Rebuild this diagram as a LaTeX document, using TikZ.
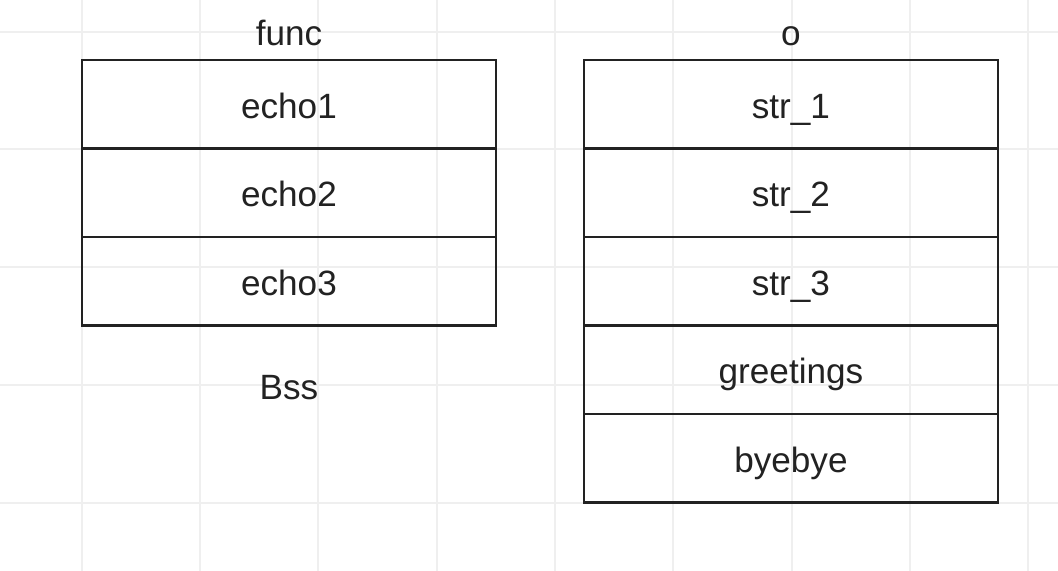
\documentclass[tikz,border=0pt]{standalone}
\usepackage{fontspec}
\setmainfont{Liberation Sans}
\usetikzlibrary{positioning}
\definecolor{gridgray}{HTML}{EFEFEF}
\definecolor{ink}{HTML}{222222}

\begin{document}
\begin{tikzpicture}[
  x=0.02cm,y=-0.02cm,
  node distance=0pt,
  font=\fontsize{20}{24}\selectfont,
  cell/.style={draw=ink,line width=1.3pt,outer sep=0pt,inner sep=0pt,minimum width=8.28cm,minimum height=1.77cm,text height=17pt,text depth=1.2pt,text=ink},
  title/.style={text=ink,inner sep=2pt,text height=16pt,text depth=1.2pt},
  gridline/.style={draw=gridgray,line width=0.6pt}
]
\useasboundingbox (0,0) rectangle (1058,571);
\fill[white] (0,0) rectangle (1058,571);
% background grid
\foreach \gx in {82,200,318,437,555,673,792,910,1028}
  \draw[gridline] (\gx,0) -- (\gx,571);
\foreach \gy in {32,149,267,385,503}
  \draw[gridline] (0,\gy) -- (1058,\gy);

% func block
\node[cell,anchor=north west] (echo1) at (82,60) {echo1};
\node[cell,below=of echo1] (echo2) {echo2};
\node[cell,below=of echo2] (echo3) {echo3};
\node[title,above=1.7mm of echo1] (func) {func};
\node[title,below=8.5mm of echo3] (bss) {Bss};

% o block
\node[cell,anchor=north west] (str1) at (584,60) {str\_1};
\node[cell,below=of str1] (str2) {str\_2};
\node[cell,below=of str2] (str3) {str\_3};
\node[cell,below=of str3] (greet) {greetings};
\node[cell,below=of greet] (bye) {byebye};
\node[title,above=1.7mm of str1] (obj) {o};
\end{tikzpicture}
\end{document}
